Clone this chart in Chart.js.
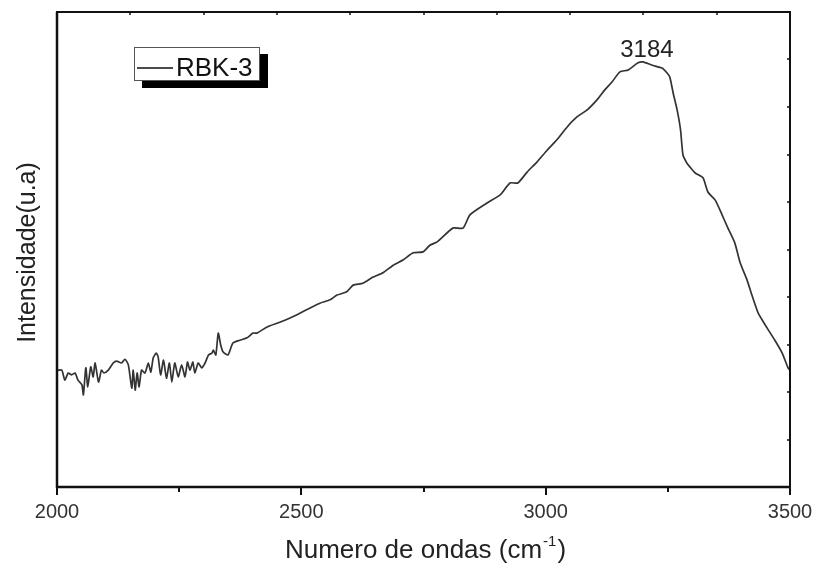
<!DOCTYPE html>
<html>
<head>
<meta charset="utf-8">
<script src="https://cdn.jsdelivr.net/npm/chart.js@4.4.0/dist/chart.umd.min.js"></script>
<style>
  html, body { margin: 0; padding: 0; background: #fff; }
</style>
</head>
<body>
<canvas id="chart" width="821" height="568"></canvas>
<script>
// Spectrum (arbitrary intensity units, 0-10)
const wavenumbers = [
  2001, 2010, 2016, 2023, 2030, 2037, 2043, 2051, 2054, 2059, 2063, 2069, 2074, 2078, 2085,
  2091, 2096, 2105, 2115, 2122, 2132, 2139, 2146, 2153, 2156, 2160, 2164, 2168, 2173, 2180,
  2187, 2192, 2197, 2203, 2207, 2212, 2218, 2224, 2230, 2235, 2241, 2248, 2255, 2262, 2267,
  2272, 2278, 2282, 2289, 2296, 2303, 2310, 2317, 2320, 2325, 2330, 2335, 2340, 2350, 2360,
  2374, 2389, 2401, 2409, 2430, 2456, 2477, 2497, 2518, 2538, 2559, 2573, 2593, 2606, 2626,
  2647, 2667, 2688, 2708, 2729, 2749, 2763, 2778, 2810, 2831, 2845, 2880, 2907, 2927, 2943,
  2962, 2982, 3003, 3023, 3044, 3064, 3085, 3105, 3121, 3136, 3152, 3169, 3189, 3199, 3218,
  3238, 3248, 3254, 3261, 3269, 3276, 3281, 3289, 3295, 3306, 3322, 3332, 3347, 3361,
  3373, 3387, 3398, 3412, 3422, 3435, 3453, 3469, 3484, 3496, 3500
];
const intensity = [
  2.46, 2.46, 2.25, 2.40, 2.36, 2.40, 2.25, 2.15, 1.94, 2.51, 2.11, 2.53, 2.32, 2.61, 2.21,
  2.46, 2.40, 2.46, 2.61, 2.65, 2.61, 2.69, 2.57, 2.08, 2.46, 2.04, 2.40, 2.11, 2.46, 2.40,
  2.61, 2.42, 2.72, 2.82, 2.74, 2.36, 2.67, 2.29, 2.61, 2.21, 2.61, 2.32, 2.57, 2.32, 2.63,
  2.46, 2.63, 2.40, 2.61, 2.51, 2.61, 2.78, 2.82, 2.88, 2.78, 3.24, 2.99, 2.84, 2.78, 3.03,
  3.09, 3.14, 3.24, 3.24, 3.37, 3.47, 3.56, 3.66, 3.77, 3.87, 3.94, 4.04, 4.11, 4.25, 4.29,
  4.42, 4.51, 4.67, 4.78, 4.93, 4.95, 5.09, 5.16, 5.45, 5.45, 5.73, 5.98, 6.15, 6.40, 6.40,
  6.63, 6.84, 7.09, 7.31, 7.58, 7.79, 7.94, 8.15, 8.36, 8.53, 8.74, 8.78, 8.93, 8.95, 8.88,
  8.82, 8.72, 8.63, 8.29, 7.94, 7.52, 6.99, 6.82, 6.74, 6.61, 6.51, 6.21, 6.04, 5.73,
  5.45, 5.14, 4.72, 4.36, 4.04, 3.66, 3.35, 3.09, 2.82, 2.51, 2.46
];

const xMajorTicks = [2000, 2500, 3000, 3500];
const xMinorTicks = [2250, 2750, 3250];
const topTicks = [2150, 2300, 2450, 2600, 2750, 2900, 3050, 3200, 3350];
const rightTicks = [1, 2, 3, 4, 5, 6, 7, 8, 9];

const seriesLabel = 'RBK-3';
const peakLabel = '3184';
const xTitle = 'Numero de ondas (cm';
const xTitleSup = '-1';
const xTitleEnd = ')';
const yTitle = 'Intensidade(u.a)';

const FONT = '"Liberation Sans", Arial, sans-serif';

const points = wavenumbers.map((w, i) => ({ x: w, y: intensity[i] }));

// frame, ticks, legend box, peak label and axis titles
const decorPlugin = {
  id: 'decor',
  afterDraw(chart) {
    const ctx = chart.ctx;
    const a = chart.chartArea;
    const xs = chart.scales.x;
    const ys = chart.scales.y;
    ctx.save();

    // frame
    ctx.strokeStyle = '#111';
    ctx.lineWidth = 2;
    ctx.strokeRect(a.left, a.top, a.right - a.left, a.bottom - a.top);
    ctx.lineWidth = 2.5;
    ctx.beginPath();
    ctx.moveTo(a.left, a.top);
    ctx.lineTo(a.left, a.bottom);
    ctx.lineTo(a.right, a.bottom);
    ctx.stroke();

    // bottom ticks (outward)
    ctx.lineWidth = 2;
    xMajorTicks.forEach(v => {
      const px = Math.round(xs.getPixelForValue(v));
      ctx.beginPath();
      ctx.moveTo(px, a.bottom);
      ctx.lineTo(px, a.bottom + 8);
      ctx.stroke();
    });
    xMinorTicks.forEach(v => {
      const px = Math.round(xs.getPixelForValue(v));
      ctx.beginPath();
      ctx.moveTo(px, a.bottom);
      ctx.lineTo(px, a.bottom + 5);
      ctx.stroke();
    });

    // top and right ticks (inward)
    ctx.lineWidth = 1.5;
    topTicks.forEach(v => {
      const px = Math.round(xs.getPixelForValue(v));
      ctx.beginPath();
      ctx.moveTo(px, a.top);
      ctx.lineTo(px, a.top + 3);
      ctx.stroke();
    });
    rightTicks.forEach(v => {
      const py = Math.round(ys.getPixelForValue(v));
      ctx.beginPath();
      ctx.moveTo(a.right, py);
      ctx.lineTo(a.right - 3, py);
      ctx.stroke();
    });

    // peak label
    let iMax = 0;
    intensity.forEach((v, i) => { if (v > intensity[iMax]) iMax = i; });
    const peakX = xs.getPixelForValue(wavenumbers[iMax]);
    const peakY = ys.getPixelForValue(intensity[iMax]);
    ctx.fillStyle = '#222';
    ctx.font = '24px ' + FONT;
    ctx.textAlign = 'center';
    ctx.textBaseline = 'alphabetic';
    ctx.fillText(peakLabel, peakX + 4, peakY - 5);

    // legend box with shadow
    const bx = a.left + 77, by = a.top + 35, bw = 126, bh = 34;
    ctx.fillStyle = '#000';
    ctx.fillRect(bx + 8, by + 7, bw, bh);
    ctx.fillStyle = '#fff';
    ctx.fillRect(bx, by, bw, bh);
    ctx.strokeStyle = '#555';
    ctx.lineWidth = 1;
    ctx.strokeRect(bx + 0.5, by + 0.5, bw - 1, bh - 1);
    ctx.strokeStyle = '#111';
    ctx.lineWidth = 1.5;
    ctx.beginPath();
    ctx.moveTo(bx + 3, by + 21);
    ctx.lineTo(bx + 39, by + 21);
    ctx.stroke();
    ctx.fillStyle = '#111';
    ctx.font = '26px ' + FONT;
    ctx.textAlign = 'left';
    ctx.fillText(seriesLabel, bx + 42, by + 29);

    // x title with superscript
    ctx.fillStyle = '#222';
    ctx.font = '26px ' + FONT;
    const w1 = ctx.measureText(xTitle).width;
    ctx.font = '15px ' + FONT;
    const w2 = ctx.measureText(xTitleSup).width;
    ctx.font = '26px ' + FONT;
    const w3 = ctx.measureText(xTitleEnd).width;
    let tx = (a.left + a.right) / 2 - (w1 + w2 + w3) / 2 + 1;
    const ty = 558;
    ctx.fillText(xTitle, tx, ty);
    tx += w1 + 1;
    ctx.font = '15px ' + FONT;
    ctx.fillText(xTitleSup, tx, ty - 12);
    tx += w2 + 1;
    ctx.font = '26px ' + FONT;
    ctx.fillText(xTitleEnd, tx, ty);

    // y title
    ctx.font = '25px ' + FONT;
    ctx.translate(35, (a.top + a.bottom) / 2 + 3);
    ctx.rotate(-Math.PI / 2);
    ctx.textAlign = 'center';
    ctx.fillText(yTitle, 0, 0);

    ctx.restore();
  }
};

new Chart(document.getElementById('chart'), {
  type: 'line',
  data: {
    datasets: [{
      label: seriesLabel,
      data: points,
      borderColor: '#333',
      borderWidth: 1.7,
      pointRadius: 0,
      tension: 0.2,
      fill: false
    }]
  },
  options: {
    responsive: false,
    animation: false,
    devicePixelRatio: 1,
    layout: { padding: { top: 12, right: 31, left: 0, bottom: 0 } },
    plugins: {
      legend: { display: false },
      tooltip: { enabled: false }
    },
    scales: {
      x: {
        type: 'linear',
        min: 2000,
        max: 3500,
        ticks: {
          stepSize: 500,
          color: '#333',
          font: { size: 20, family: FONT },
          padding: 5,
          maxRotation: 0,
          callback: v => String(v)
        },
        grid: { display: true, drawOnChartArea: false, drawTicks: true, tickLength: 8, color: 'rgba(0,0,0,0)' },
        border: { display: false },
        afterFit: s => { s.height = 81; }
      },
      y: {
        min: 0,
        max: 10,
        ticks: { display: false },
        grid: { display: false },
        border: { display: false },
        afterFit: s => { s.width = 57; }
      }
    }
  },
  plugins: [decorPlugin]
});
</script>
</body>
</html>
